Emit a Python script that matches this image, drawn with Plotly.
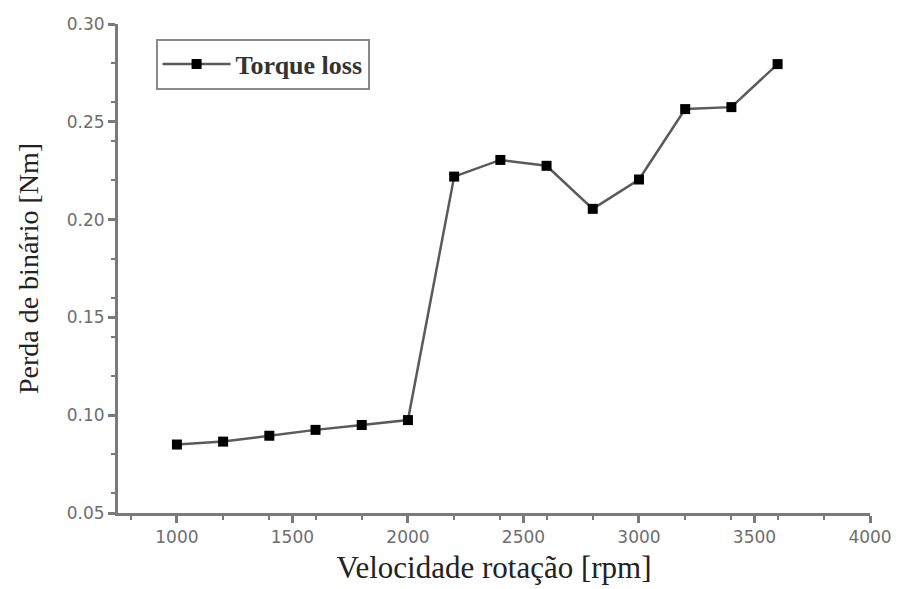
import plotly.graph_objects as go

rpm = [1000, 1200, 1400, 1600, 1800, 2000, 2200, 2400, 2600, 2800, 3000, 3200, 3400, 3600]
torque_loss = [0.085, 0.0865, 0.0895, 0.0925, 0.095, 0.0975, 0.222, 0.2305, 0.2275, 0.2055, 0.2205, 0.2565, 0.2575, 0.2795]
x_ticks = [1000, 1500, 2000, 2500, 3000, 3500, 4000]
y_ticks = [0.05, 0.10, 0.15, 0.20, 0.25, 0.30]

fig = go.Figure()
fig.add_trace(go.Scatter(
    x=rpm, y=torque_loss, mode="lines+markers", name="Torque loss",
    line=dict(color="#5a5a5a", width=2.5),
    marker=dict(symbol="square", size=10, color="black"),
))

axis_common = dict(
    showline=True, linecolor="#7a7a7a", linewidth=3,
    ticks="outside", ticklen=7, tickwidth=2.5, tickcolor="#7a7a7a",
    showgrid=False, zeroline=False, automargin=False,
    tickfont=dict(family="DejaVu Sans", size=17, color="#6e6e6e"),
    minor=dict(ticks="outside", ticklen=4, tickwidth=2, tickcolor="#7a7a7a"),
)

fig.update_layout(
    width=897, height=589,
    margin=dict(l=118, r=27, t=24, b=76),
    plot_bgcolor="white", paper_bgcolor="white",
    xaxis=dict(range=[745, 4000], tickvals=x_ticks,
               title=dict(text="Velocidade rotação [rpm]", standoff=10,
                          font=dict(family="Liberation Serif, Times New Roman", size=31, color="#222222")),
               **axis_common),
    yaxis=dict(range=[0.05, 0.30], tickvals=y_ticks, tickformat=".2f",
               title=dict(text="Perda de binário [Nm]", standoff=20,
                          font=dict(family="Liberation Serif, Times New Roman", size=28, color="#222222")),
               **axis_common),
    legend=dict(x=0.05, y=0.97, xanchor="left", yanchor="top", itemwidth=68,
                bordercolor="#8a8a8a", borderwidth=2, bgcolor="white",
                font=dict(family="Liberation Serif, Times New Roman", size=26, color="#333333",
                          weight="bold")),
    showlegend=True,
)

fig.write_html("out.html")
